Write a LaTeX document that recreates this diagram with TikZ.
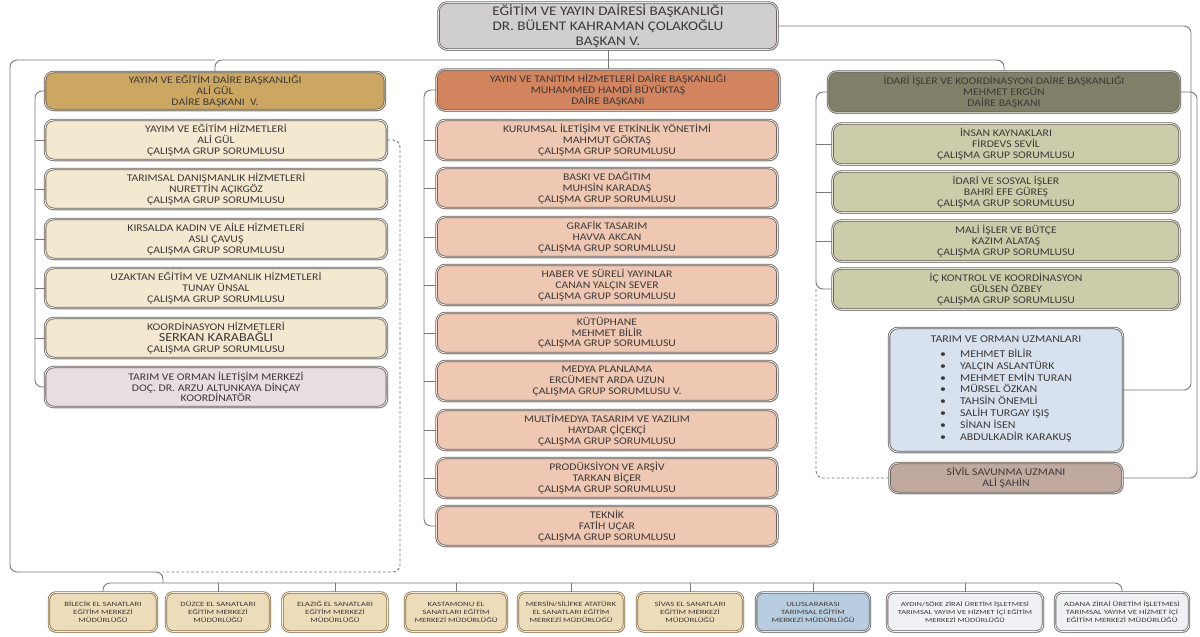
\documentclass[tikz,border=0pt]{standalone}
\usepackage{fontspec}
\setmainfont{Carlito}[FakeStretch=1.15]
\newfontfamily\merkezfont{Carlito}[FakeStretch=1.35]
\usetikzlibrary{shadows}

\definecolor{txt}{RGB}{62,56,56}
\definecolor{edge}{RGB}{105,100,98}
\definecolor{wire}{RGB}{120,120,120}
\definecolor{topfill}{RGB}{208,206,206}
\definecolor{yehead}{RGB}{204,167,98}
\definecolor{yechild}{RGB}{243,232,208}
\definecolor{iletisim}{RGB}{230,222,224}
\definecolor{ythead}{RGB}{210,132,95}
\definecolor{ytchild}{RGB}{238,200,178}
\definecolor{idhead}{RGB}{128,128,104}
\definecolor{idchild}{RGB}{203,205,170}
\definecolor{uzmanfill}{RGB}{215,226,238}
\definecolor{sivilfill}{RGB}{192,170,160}
\definecolor{merkezfill}{RGB}{236,220,185}
\definecolor{merkezedge}{RGB}{140,110,72}
\definecolor{ulusfill}{RGB}{185,205,225}
\definecolor{isletmefill}{RGB}{240,241,245}

\newcommand{\orgtop}{\fontsize{7.5}{8.6}\selectfont}
\newcommand{\orgtext}{\fontsize{5.8}{6.1}\selectfont}
\newcommand{\orgsmall}{\merkezfont\fontsize{3.7}{4.6}\selectfont}

\tikzset{
	orgbox/.style={fill=#1, draw=edge, double=#1!45!white, double distance=0.5pt,
		line width=0.45pt, rounded corners=5pt, align=center, text=txt, inner sep=0pt,
		font=\orgtext, drop shadow={shadow xshift=0.7pt, shadow yshift=-0.9pt, opacity=0.3}},
	leftcol/.style={minimum width=6.84cm, minimum height=0.8cm},
	midcol/.style={minimum width=6.82cm, minimum height=0.8cm},
	rightcol/.style={minimum width=6.94cm, minimum height=0.82cm},
	merkez/.style={orgbox=#1, draw=merkezedge, rounded corners=4pt, font=\orgsmall, minimum height=0.78cm},
	conn/.style={draw=wire, line width=0.5pt, rounded corners=4pt},
	dashconn/.style={conn, dash pattern=on 1.6pt off 1.2pt}
}

\begin{document}
\begin{tikzpicture}[x=0.02cm, y=-0.02cm]
	%%%%% START %%%%%
	\useasboundingbox (0,0) rectangle (1200,636);

	\coordinate (hub) at (0,60);
	\coordinate (yebus) at (35,0);
	\coordinate (ytbus) at (424,0);
	\coordinate (idbus) at (816,0);
	\coordinate (ldash) at (400,0);
	\coordinate (lcorner) at (10,572);
	\coordinate (bjoin) at (163,572);
	\coordinate (bus) at (0,583);
	\coordinate (rwireA) at (1191,0);
	\coordinate (rwireB) at (1197,0);

	% baskan
	\node[orgbox=topfill, font=\orgtop, minimum width=6.78cm, minimum height=0.94cm] (baskan) at (608,26) {EĞİTİM VE YAYIN DAİRESİ BAŞKANLIĞI\\DR. BÜLENT KAHRAMAN ÇOLAKOĞLU\\BAŞKAN V.};

	% yayim ve egitim
	\node[orgbox=yehead, minimum width=6.8cm, minimum height=0.76cm] (yehead) at (215,91) {YAYIM VE EĞİTİM DAİRE BAŞKANLIĞI\\ALİ GÜL\\DAİRE BAŞKANI\ \ V.};
	\node[orgbox=yechild, leftcol] (ye1) at (216,140) {YAYIM VE EĞİTİM HİZMETLERİ\\ALİ GÜL\\ÇALIŞMA GRUP SORUMLUSU};
	\node[orgbox=yechild, leftcol] (ye2) at (216,189) {TARIMSAL DANIŞMANLIK HİZMETLERİ\\NURETTİN AÇIKGÖZ\\ÇALIŞMA GRUP SORUMLUSU};
	\node[orgbox=yechild, leftcol] (ye3) at (216,239) {KIRSALDA KADIN VE AİLE HİZMETLERİ\\ASLI ÇAVUŞ\\ÇALIŞMA GRUP SORUMLUSU};
	\node[orgbox=yechild, leftcol] (ye4) at (216,288) {UZAKTAN EĞİTİM VE UZMANLIK HİZMETLERİ\\TUNAY ÜNSAL\\ÇALIŞMA GRUP SORUMLUSU};
	\node[orgbox=yechild, leftcol] (ye5) at (216,338) {KOORDİNASYON HİZMETLERİ\\{\fontsize{7}{6.1}\selectfont SERKAN KARABAĞLI}\\ÇALIŞMA GRUP SORUMLUSU};
	\node[orgbox=iletisim, leftcol] (ye6) at (216,387) {TARIM VE ORMAN İLETİŞİM MERKEZİ\\DOÇ. DR. ARZU ALTUNKAYA DİNÇAY\\KOORDİNATÖR};

	% yayin ve tanitim
	\node[orgbox=ythead, minimum width=6.86cm, minimum height=0.82cm] (ythead) at (608,90) {YAYIN VE TANITIM HİZMETLERİ DAİRE BAŞKANLIĞI\\MUHAMMED HAMDİ BÜYÜKTAŞ\\DAİRE BAŞKANI};
	\node[orgbox=ytchild, midcol] (yt1) at (607,140) {KURUMSAL İLETİŞİM VE ETKİNLİK YÖNETİMİ\\MAHMUT GÖKTAŞ\\ÇALIŞMA GRUP SORUMLUSU};
	\node[orgbox=ytchild, midcol] (yt2) at (607,188) {BASKI VE DAĞITIM\\MUHSİN KARADAŞ\\ÇALIŞMA GRUP SORUMLUSU};
	\node[orgbox=ytchild, midcol] (yt3) at (607,237) {GRAFİK TASARIM\\HAVVA AKCAN\\ÇALIŞMA GRUP SORUMLUSU};
	\node[orgbox=ytchild, midcol] (yt4) at (607,285) {HABER VE SÜRELİ YAYINLAR\\CANAN YALÇIN SEVER\\ÇALIŞMA GRUP SORUMLUSU};
	\node[orgbox=ytchild, midcol] (yt5) at (607,333) {KÜTÜPHANE\\MEHMET BİLİR\\ÇALIŞMA GRUP SORUMLUSU};
	\node[orgbox=ytchild, midcol] (yt6) at (607,381) {MEDYA PLANLAMA\\ERCÜMENT ARDA UZUN\\ÇALIŞMA GRUP SORUMLUSU V.};
	\node[orgbox=ytchild, midcol] (yt7) at (607,430) {MULTİMEDYA TASARIM VE YAZILIM\\HAYDAR ÇİÇEKÇİ\\ÇALIŞMA GRUP SORUMLUSU};
	\node[orgbox=ytchild, midcol] (yt8) at (607,478) {PRODÜKSİYON VE ARŞİV\\TARKAN BİÇER\\ÇALIŞMA GRUP SORUMLUSU};
	\node[orgbox=ytchild, midcol] (yt9) at (607,526) {TEKNİK\\FATİH UÇAR\\ÇALIŞMA GRUP SORUMLUSU};

	% idari isler
	\node[orgbox=idhead, minimum width=7.04cm, minimum height=0.82cm] (idhead) at (1004,92) {İDARİ İŞLER VE KOORDİNASYON DAİRE BAŞKANLIĞI\\MEHMET ERGÜN\\DAİRE BAŞKANI};
	\node[orgbox=idchild, rightcol] (id1) at (1006,144) {İNSAN KAYNAKLARI\\FİRDEVS SEVİL\\ÇALIŞMA GRUP SORUMLUSU};
	\node[orgbox=idchild, rightcol] (id2) at (1006,192) {İDARİ VE SOSYAL İŞLER\\BAHRİ EFE GÜREŞ\\ÇALIŞMA GRUP SORUMLUSU};
	\node[orgbox=idchild, rightcol] (id3) at (1006,241) {MALİ İŞLER VE BÜTÇE\\KAZIM ALATAŞ\\ÇALIŞMA GRUP SORUMLUSU};
	\node[orgbox=idchild, rightcol] (id4) at (1006,289) {İÇ KONTROL VE KOORDİNASYON\\GÜLSEN ÖZBEY\\ÇALIŞMA GRUP SORUMLUSU};

	% uzmanlar
	\node[orgbox=uzmanfill, minimum width=4.68cm, minimum height=2.48cm, font=\fontsize{5.9}{6.5}\selectfont] (uzman) at (1006,390) {TARIM VE ORMAN UZMANLARI\\[2.5pt]
		\begin{tabular}{@{}c@{\hspace{8pt}}l@{}}
			\textbullet & MEHMET BİLİR\\
			\textbullet & YALÇIN ASLANTÜRK\\
			\textbullet & MEHMET EMİN TURAN\\
			\textbullet & MÜRSEL ÖZKAN\\
			\textbullet & TAHSİN ÖNEMLİ\\
			\textbullet & SALİH TURGAY IŞIŞ\\
			\textbullet & SİNAN İSEN\\
			\textbullet & ABDULKADİR KARAKUŞ
		\end{tabular}};
	\node[orgbox=sivilfill, minimum width=4.66cm, minimum height=0.6cm] (sivil) at (1006,478) {SİVİL SAVUNMA UZMANI\\ALİ ŞAHİN};

	% merkezler
	\node[merkez=merkezfill, minimum width=2.16cm] (bilecik) at (103,612) {BİLECİK EL SANATLARI\\EĞİTİM MERKEZİ\\MÜDÜRLÜĞÜ};
	\node[merkez=merkezfill, minimum width=2.08cm] (duzce) at (218,612) {DÜZCE EL SANATLARI\\EĞİTİM MERKEZİ\\MÜDÜRLÜĞÜ};
	\node[merkez=merkezfill, minimum width=2.1cm] (elazig) at (335,612) {ELAZIĞ EL SANATLARI\\EĞİTİM MERKEZİ\\MÜDÜRLÜĞÜ};
	\node[merkez=merkezfill, minimum width=2.04cm] (kastamonu) at (456,612) {KASTAMONU EL\\SANATLARI EĞİTİM\\MERKEZİ MÜDÜRLÜĞÜ};
	\node[merkez=merkezfill, minimum width=2.12cm] (mersin) at (571,612) {MERSİN/SİLİFKE ATATÜRK\\EL SANATLARI EĞİTİM\\MERKEZİ MÜDÜRLÜĞÜ};
	\node[merkez=merkezfill, minimum width=2.12cm] (sivas) at (690,612) {SİVAS EL SANATLARI\\EĞİTİM MERKEZİ\\MÜDÜRLÜĞÜ};
	\node[merkez=ulusfill, draw=edge, minimum width=2.28cm] (ulus) at (813,612) {ULUSLARARASI\\TARIMSAL EĞİTİM\\MERKEZİ MÜDÜRLÜĞÜ};
	\node[merkez=isletmefill, draw=edge, minimum width=3.12cm, font=\merkezfont\fontsize{3.55}{4.6}\selectfont] (aydin) at (965,612) {AYDIN/SÖKE ZİRAİ ÜRETİM İŞLETMESİ\\TARIMSAL YAYIM VE HİZMET İÇİ EĞİTİM\\MERKEZİ MÜDÜRLÜĞÜ};
	\node[merkez=isletmefill, draw=edge, minimum width=2.68cm] (adana) at (1122,612) {ADANA ZİRAİ ÜRETİM İŞLETMESİ\\TARIMSAL YAYIM VE HİZMET İÇİ\\EĞİTİM MERKEZİ MÜDÜRLÜĞÜ};

	% baglantilar
	\draw[conn] (baskan.south) -- (ythead.north);
	\draw[conn] (yehead.north) -- (yehead.north |- hub) -- (idhead.north |- hub) -- (idhead.north);
	\draw[conn] (yehead.north |- hub) -| (lcorner) -- (bjoin) -- (bjoin |- bus);

	\draw[conn] (yehead.west) -- (yehead.west -| yebus) -- (ye6.west -| yebus) -- (ye6.west);
	\draw[conn] (ye1.west) -- (ye1.west -| yebus);
	\draw[conn] (ye2.west) -- (ye2.west -| yebus);
	\draw[conn] (ye3.west) -- (ye3.west -| yebus);
	\draw[conn] (ye4.west) -- (ye4.west -| yebus);
	\draw[conn] (ye5.west) -- (ye5.west -| yebus);
	\draw[dashconn] (ye1.east) -- (ye1.east -| ldash) -- (ldash |- bjoin) -- (bjoin);

	\draw[conn] (ythead.west) -- (ythead.west -| ytbus) -- (yt9.west -| ytbus) -- (yt9.west);
	\draw[conn] (yt1.west) -- (yt1.west -| ytbus);
	\draw[conn] (yt2.west) -- (yt2.west -| ytbus);
	\draw[conn] (yt3.west) -- (yt3.west -| ytbus);
	\draw[conn] (yt4.west) -- (yt4.west -| ytbus);
	\draw[conn] (yt5.west) -- (yt5.west -| ytbus);
	\draw[conn] (yt6.west) -- (yt6.west -| ytbus);
	\draw[conn] (yt7.west) -- (yt7.west -| ytbus);
	\draw[conn] (yt8.west) -- (yt8.west -| ytbus);

	\draw[conn] (idhead.west) -- (idhead.west -| idbus) -- (id4.west -| idbus) -- (id4.west);
	\draw[conn] (id1.west) -- (id1.west -| idbus);
	\draw[conn] (id2.west) -- (id2.west -| idbus);
	\draw[conn] (id3.west) -- (id3.west -| idbus);
	\draw[dashconn] (id4.west -| idbus) -- (idbus |- sivil.west) -- (sivil.west);

	\draw[conn] (baskan.east) -- (baskan.east -| rwireA) -- (rwireA |- uzman.east) -- (uzman.east);
	\draw[conn] (idhead.east) -- (idhead.east -| rwireB) -- (rwireB |- sivil.east) -- (sivil.east);

	\draw[conn] (bilecik.north) -- (bilecik.north |- bus) -- (adana.north |- bus) -- (adana.north);
	\draw[conn] (duzce.north) -- (duzce.north |- bus);
	\draw[conn] (elazig.north) -- (elazig.north |- bus);
	\draw[conn] (kastamonu.north) -- (kastamonu.north |- bus);
	\draw[conn] (mersin.north) -- (mersin.north |- bus);
	\draw[conn] (sivas.north) -- (sivas.north |- bus);
	\draw[conn] (ulus.north) -- (ulus.north |- bus);
	\draw[conn] (aydin.north) -- (aydin.north |- bus);
	%%%%% END %%%%%
\end{tikzpicture}
\end{document}
